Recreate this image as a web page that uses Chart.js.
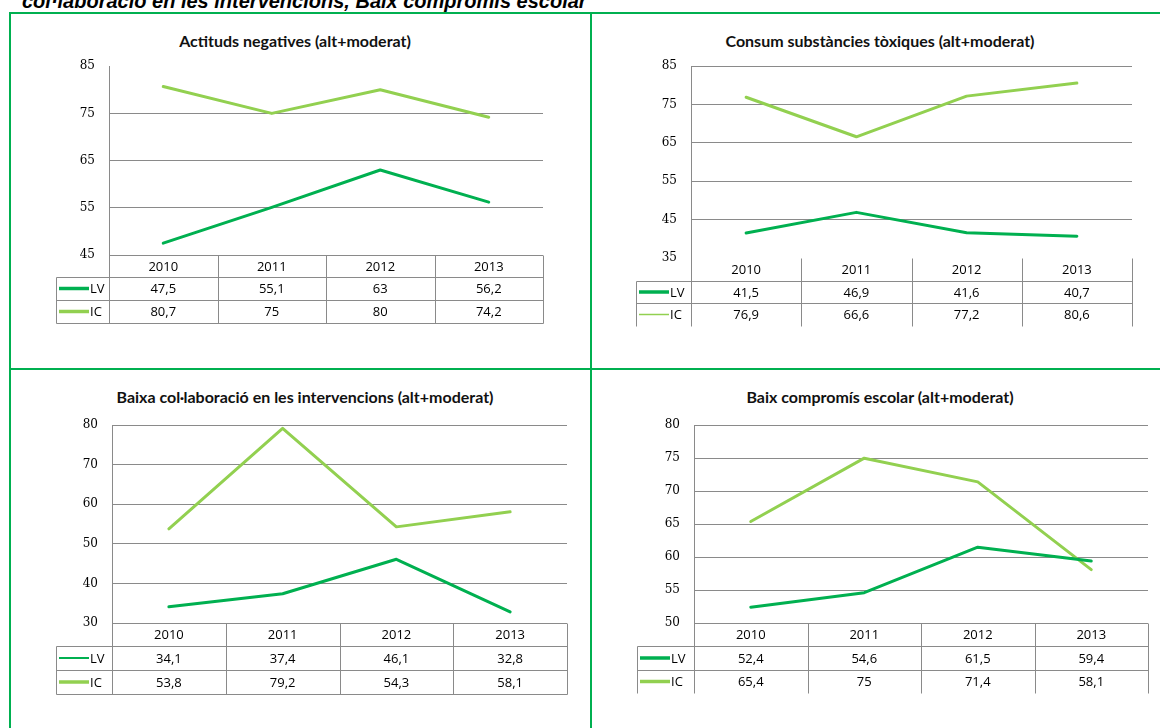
<!DOCTYPE html>
<html>
<head>
<meta charset="utf-8">
<script src="https://cdn.jsdelivr.net/npm/chart.js@4.4.1/dist/chart.umd.min.js"></script>
<style>
  body { margin: 0; width: 1160px; height: 728px; overflow: hidden; background: #fff; position: relative; }
  .heading { position: absolute; left: 22px; top: -9px; font: italic bold 20px/20px "Liberation Sans", Arial, sans-serif; white-space: nowrap; color: #000; }
  .rule { position: absolute; background: #00b050; }
  .title { position: absolute; font: bold 16px Lato, sans-serif; color: #111; transform: translate(-50%, -50%); white-space: nowrap; }
  .box { position: absolute; }
</style>
</head>
<body>
<div class="heading">col·laboració en les intervencions, Baix compromís escolar</div>
<div class="rule" style="left:9px;top:12px;width:1151px;height:2px"></div>
<div class="rule" style="left:9px;top:12px;width:2px;height:716px"></div>
<div class="rule" style="left:590px;top:12px;width:2px;height:716px"></div>
<div class="rule" style="left:9px;top:368px;width:1151px;height:2px"></div>

<script>
const years = ['2010', '2011', '2012', '2013'];
const series = ['LV', 'IC'];
const colors = ['#00b050', '#92d050'];

const titles = [
  'Actituds negatives (alt+moderat)',
  'Consum substàncies tòxiques (alt+moderat)',
  'Baixa col·laboració en les intervencions (alt+moderat)',
  'Baix compromís escolar (alt+moderat)'
];

const actitudsLV = [47.5, 55.1, 63, 56.2];
const actitudsIC = [80.7, 75, 80, 74.2];
const consumLV = [41.5, 46.9, 41.6, 40.7];
const consumIC = [76.9, 66.6, 77.2, 80.6];
const collaboracioLV = [34.1, 37.4, 46.1, 32.8];
const collaboracioIC = [53.8, 79.2, 54.3, 58.1];
const compromisLV = [52.4, 54.6, 61.5, 59.4];
const compromisIC = [65.4, 75, 71.4, 58.1];

const yMin = [45, 35, 30, 50];
const yMax = [85, 85, 80, 80];
const yStep = [10, 10, 10, 5];

const values = [
  [actitudsLV, actitudsIC],
  [consumLV, consumIC],
  [collaboracioLV, collaboracioIC],
  [compromisLV, compromisIC]
];

// page placement of each plot area [left, top, right, bottom] and its data table
const panels = [
  { plot: [109, 65, 543, 255], head: 53, rows: [22, 23, 23], titleAt: [295, 40], topRule: false, baseRule: true, closed: true, keys: [3.5, 3.5] },
  { plot: [691, 65, 1132, 258], head: 55, rows: [23, 22, 23], titleAt: [880, 40], topRule: true, baseRule: false, closed: false, keys: [3.5, 1.5] },
  { plot: [112, 424, 567, 623], head: 56, rows: [23, 24, 24], titleAt: [305, 396], topRule: true, baseRule: true, closed: true, keys: [2, 3.5] },
  { plot: [694, 424, 1148, 623], head: 57, rows: [23, 24, 23], titleAt: [880, 396], topRule: true, baseRule: true, closed: false, keys: [3.5, 3.5] }
];

const AXIS_W = 70, PAD_T = 20, PAD_R = 20, PAD_B = 85;
const LINE = '#8a8a8a';

// data table under the plot, columns follow the category scale
const dataTable = {
  id: 'dataTable',
  afterDraw(chart, args, o) {
    const { ctx, chartArea: a, scales: { x } } = chart;
    const n = chart.data.labels.length;
    const px = v => Math.round(v) + 0.5;
    const y0 = a.bottom, y1 = y0 + o.rows[0], y2 = y1 + o.rows[1], y3 = y2 + o.rows[2];
    const hl = a.left - o.head;
    const seg = (xa, ya, xb, yb) => {
      ctx.beginPath(); ctx.moveTo(px(xa), px(ya)); ctx.lineTo(px(xb), px(yb)); ctx.stroke();
    };
    ctx.save();
    ctx.strokeStyle = LINE;
    ctx.lineWidth = 1;
    seg(hl, y1, a.right, y1);
    seg(hl, y2, a.right, y2);
    if (o.closed) seg(hl, y3, a.right, y3);
    seg(hl, y1, hl, y3);
    seg(a.left, y0, a.left, y3);
    for (let i = 0; i < n; i++) {
      const edge = i === n - 1 ? a.right : (x.getPixelForValue(i) + x.getPixelForValue(i + 1)) / 2;
      seg(edge, y0, edge, y3);
    }

    ctx.fillStyle = '#000';
    ctx.font = '13px "Open Sans", sans-serif';
    ctx.textAlign = 'center';
    ctx.textBaseline = 'middle';
    const mids = [(y0 + y1) / 2 + 1, (y1 + y2) / 2 + 1, (y2 + y3) / 2 + 1];
    chart.data.labels.forEach((lab, i) => {
      const cx = x.getPixelForValue(i);
      ctx.fillText(lab, cx, mids[0]);
      chart.data.datasets.forEach((ds, j) => {
        ctx.fillText(String(ds.data[i]).replace('.', ','), cx, mids[j + 1]);
      });
    });

    ctx.textAlign = 'left';
    chart.data.datasets.forEach((ds, j) => {
      const ym = (j === 0 ? (y1 + y2) : (y2 + y3)) / 2;
      ctx.strokeStyle = ds.borderColor;
      ctx.lineWidth = o.keys[j];
      ctx.beginPath();
      ctx.moveTo(hl + 3, ym);
      ctx.lineTo(hl + 33, ym);
      ctx.stroke();
      ctx.fillText(ds.label, hl + 34, ym + 1);
    });
    ctx.restore();
  }
};

panels.forEach((p, k) => {
  const [l, t, r, b] = p.plot;

  const title = document.createElement('div');
  title.className = 'title';
  title.style.left = p.titleAt[0] + 'px';
  title.style.top = p.titleAt[1] + 'px';
  title.textContent = titles[k];
  document.body.appendChild(title);

  const box = document.createElement('div');
  box.className = 'box';
  box.style.left = (l - AXIS_W) + 'px';
  box.style.top = (t - PAD_T) + 'px';
  box.style.width = (r - l + AXIS_W + PAD_R) + 'px';
  box.style.height = (b - t + PAD_T + PAD_B) + 'px';
  const canvas = document.createElement('canvas');
  box.appendChild(canvas);
  document.body.appendChild(box);

  new Chart(canvas, {
    type: 'line',
    data: {
      labels: years,
      datasets: series.map((name, j) => ({
        label: name,
        data: values[k][j],
        borderColor: colors[j],
        backgroundColor: colors[j],
        borderWidth: 3,
        pointRadius: 0,
        tension: 0,
        borderCapStyle: 'round',
        borderJoinStyle: 'round'
      }))
    },
    options: {
      responsive: true,
      maintainAspectRatio: false,
      animation: false,
      layout: { padding: { left: 0, top: PAD_T, right: PAD_R, bottom: PAD_B } },
      plugins: {
        legend: { display: false },
        tooltip: { enabled: false },
        dataTable: { head: p.head, rows: p.rows, closed: p.closed, keys: p.keys }
      },
      scales: {
        x: { display: false, offset: true },
        y: {
          min: yMin[k],
          max: yMax[k],
          afterFit: s => { s.width = AXIS_W; },
          ticks: {
            stepSize: yStep[k],
            padding: 14,
            color: '#000',
            font: { family: '"DejaVu Serif", serif', size: 12 }
          },
          grid: {
            drawTicks: false,
            color: c => {
              const v = c.tick.value;
              if (v === yMax[k] && !p.topRule) return 'rgba(0,0,0,0)';
              if (v === yMin[k] && !p.baseRule) return 'rgba(0,0,0,0)';
              return LINE;
            }
          },
          border: { color: LINE }
        }
      }
    },
    plugins: [dataTable]
  });
});
</script>
</body>
</html>
